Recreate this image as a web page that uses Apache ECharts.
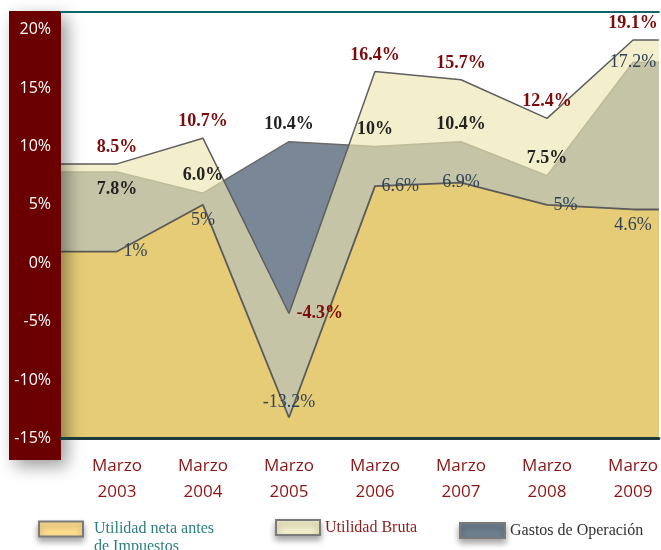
<!DOCTYPE html>
<html>
<head>
<meta charset="utf-8">
<script src="https://cdn.jsdelivr.net/npm/echarts@6/dist/echarts.min.js"></script>
<style>html,body{margin:0;padding:0;background:#fff;}#c{width:661px;height:550px;}</style>
</head>
<body>
<div id="c"></div>
<script>
// ---- data ----
const categories = ['Marzo\n2003', 'Marzo\n2004', 'Marzo\n2005', 'Marzo\n2006', 'Marzo\n2007', 'Marzo\n2008', 'Marzo\n2009'];
const yTicks = [-15, -10, -5, 0, 5, 10, 15, 20];
const seriesNames = ['Utilidad neta antes de Impuestos', 'Utilidad Bruta', 'Gastos de Operación'];
const utilidadBruta = [8.5, 10.7, -4.3, 16.4, 15.7, 12.4, 19.1];
const gastosOperacion = [7.8, 6.0, 10.4, 10, 10.4, 7.5, 17.2];
const utilidadNeta = [1, 5, -13.2, 6.6, 6.9, 5, 4.6];
const brutaText = ['8.5%', '10.7%', '-4.3%', '16.4%', '15.7%', '12.4%', '19.1%'];
const gastosText = ['7.8%', '6.0%', '10.4%', '10%', '10.4%', '7.5%', '17.2%'];
const netaText = ['1%', '5%', '-13.2%', '6.6%', '6.9%', '5%', '4.6%'];

// ---- layout / style ----
const X_MIN = -0.65, X_MAX = 6.3;
const brutaPos = ['top', 'top', 'right', 'top', 'top', 'top', 'top'];
const gastosPos = ['bottom', 'top', 'top', 'top', 'top', 'top', 'inside'];
const netaPos = ['right', 'bottom', 'top', 'right', 'inside', 'right', 'bottom'];

// area data: flat continuation of first/last value to the plot edges
function areaData(vals) {
  return [[X_MIN, vals[0]]].concat(vals.map((v, i) => [i, v]), [[X_MAX, vals[vals.length - 1]]]);
}
function labelData(vals, pos, special) {
  return vals.map((v, i) => {
    const item = { value: [i, v], label: { position: pos[i] } };
    if (special && special[i]) Object.assign(item.label, special[i]);
    return item;
  });
}

const serif = "'Liberation Serif', 'Times New Roman', serif";
const sans = "'Open Sans', 'Liberation Sans', sans-serif";
const legendIcon = { borderColor: '#7a7a7a', borderWidth: 2, shadowBlur: 6, shadowOffsetY: 4, shadowColor: 'rgba(0,0,0,0.35)' };

function areaSeries(name, vals, z, lineColor, lineWidth, fill, fillOpacity) {
  return {
    name, type: 'line', z, symbol: 'none', silent: true,
    itemStyle: { color: lineColor },
    lineStyle: { color: lineColor, width: lineWidth },
    areaStyle: { color: fill, opacity: fillOpacity, origin: 'start' },
    data: areaData(vals)
  };
}
function labelSeries(name, vals, texts, pos, labelStyle, special) {
  return {
    name, type: 'line', z: 10, symbol: 'circle', symbolSize: 1, silent: true,
    itemStyle: { color: 'rgba(0,0,0,0)' },
    lineStyle: { width: 0, opacity: 0 },
    label: Object.assign({ show: true, formatter: p => texts[p.dataIndex], fontFamily: serif, fontSize: 18 }, labelStyle),
    data: labelData(vals, pos, special)
  };
}

const chart = echarts.init(document.getElementById('c'), null, { renderer: 'canvas' });
chart.setOption({
  animation: false,
  backgroundColor: '#ffffff',
  grid: { left: 61, right: 0, top: 12, bottom: 111.5, containLabel: false },
  xAxis: [{
    type: 'value', min: X_MIN, max: X_MAX, position: 'bottom', z: 60,
    axisLine: { show: true, onZero: false, lineStyle: { color: '#1b3b3d', width: 3 } },
    axisTick: { show: false }, splitLine: { show: false },
    axisLabel: {
      customValues: [0, 1, 2, 3, 4, 5, 6],
      formatter: v => categories[Math.round(v)],
      color: '#8b1414', fontFamily: sans, fontSize: 17, lineHeight: 26, margin: 15
    }
  }, {
    type: 'value', min: X_MIN, max: X_MAX, position: 'top', z: 60,
    axisLine: { show: true, onZero: false, lineStyle: { color: '#0e666b', width: 2 } },
    axisTick: { show: false }, splitLine: { show: false }, axisLabel: { show: false }
  }],
  yAxis: {
    type: 'value', min: -15, max: 21.5, interval: 5, z: 60,
    axisLine: { show: false }, axisTick: { show: false }, splitLine: { show: false },
    axisLabel: {
      customValues: yTicks,
      formatter: v => v + '%',
      color: '#ffffff', fontFamily: sans, fontSize: 16, margin: 10
    }
  },
  graphic: [{
    type: 'rect', z: 50,
    shape: { x: 9, y: 11, width: 52, height: 449 },
    style: { fill: '#6b0000', shadowBlur: 16, shadowOffsetX: 6, shadowOffsetY: 6, shadowColor: 'rgba(0,0,0,0.4)' }
  }],
  legend: [{
    left: 38, top: 502, padding: 0, icon: 'rect', itemWidth: 44, itemHeight: 15,
    data: [{ name: seriesNames[0], itemStyle: Object.assign({ color: '#ffdf8f' }, legendIcon) }],
    formatter: () => ' \nUtilidad neta antes\nde Impuestos',
    textStyle: { color: '#2a7f7f', fontFamily: serif, fontSize: 16, lineHeight: 18, padding: [0, 0, 0, 6] }
  }, {
    left: 275, top: 519, padding: 0, icon: 'rect', itemWidth: 44, itemHeight: 15,
    data: [{ name: seriesNames[1], itemStyle: Object.assign({ color: '#f3efcb' }, legendIcon) }],
    textStyle: { color: '#8b1a1a', fontFamily: serif, fontSize: 16 }
  }, {
    left: 459, top: 522, padding: 0, icon: 'rect', itemWidth: 45, itemHeight: 15,
    data: [{ name: seriesNames[2], itemStyle: Object.assign({ color: '#6f8090' }, legendIcon) }],
    textStyle: { color: '#333333', fontFamily: serif, fontSize: 16 }
  }],
  series: [
    areaSeries(seriesNames[2], gastosOperacion, 2, '#6a6a6a', 1.5, '#7a8797', 1),
    areaSeries(seriesNames[1], utilidadBruta, 3, '#5e5e5e', 1.5, 'rgb(237,229,176)', 0.655),
    areaSeries(seriesNames[0], utilidadNeta, 4, '#5a5a5a', 1.8, '#e6cc76', 1),
    labelSeries(seriesNames[2], gastosOperacion, gastosText, gastosPos,
      { color: '#222222', fontWeight: 'bold', distance: 8 }, { 6: { color: '#2f4258', fontWeight: 'normal' } }),
    labelSeries(seriesNames[1], utilidadBruta, brutaText, brutaPos,
      { color: '#7b0a0a', fontWeight: 'bold', distance: 7 }),
    labelSeries(seriesNames[0], utilidadNeta, netaText, netaPos,
      { color: '#2f4258', distance: 6 })
  ]
});
</script>
</body>
</html>
